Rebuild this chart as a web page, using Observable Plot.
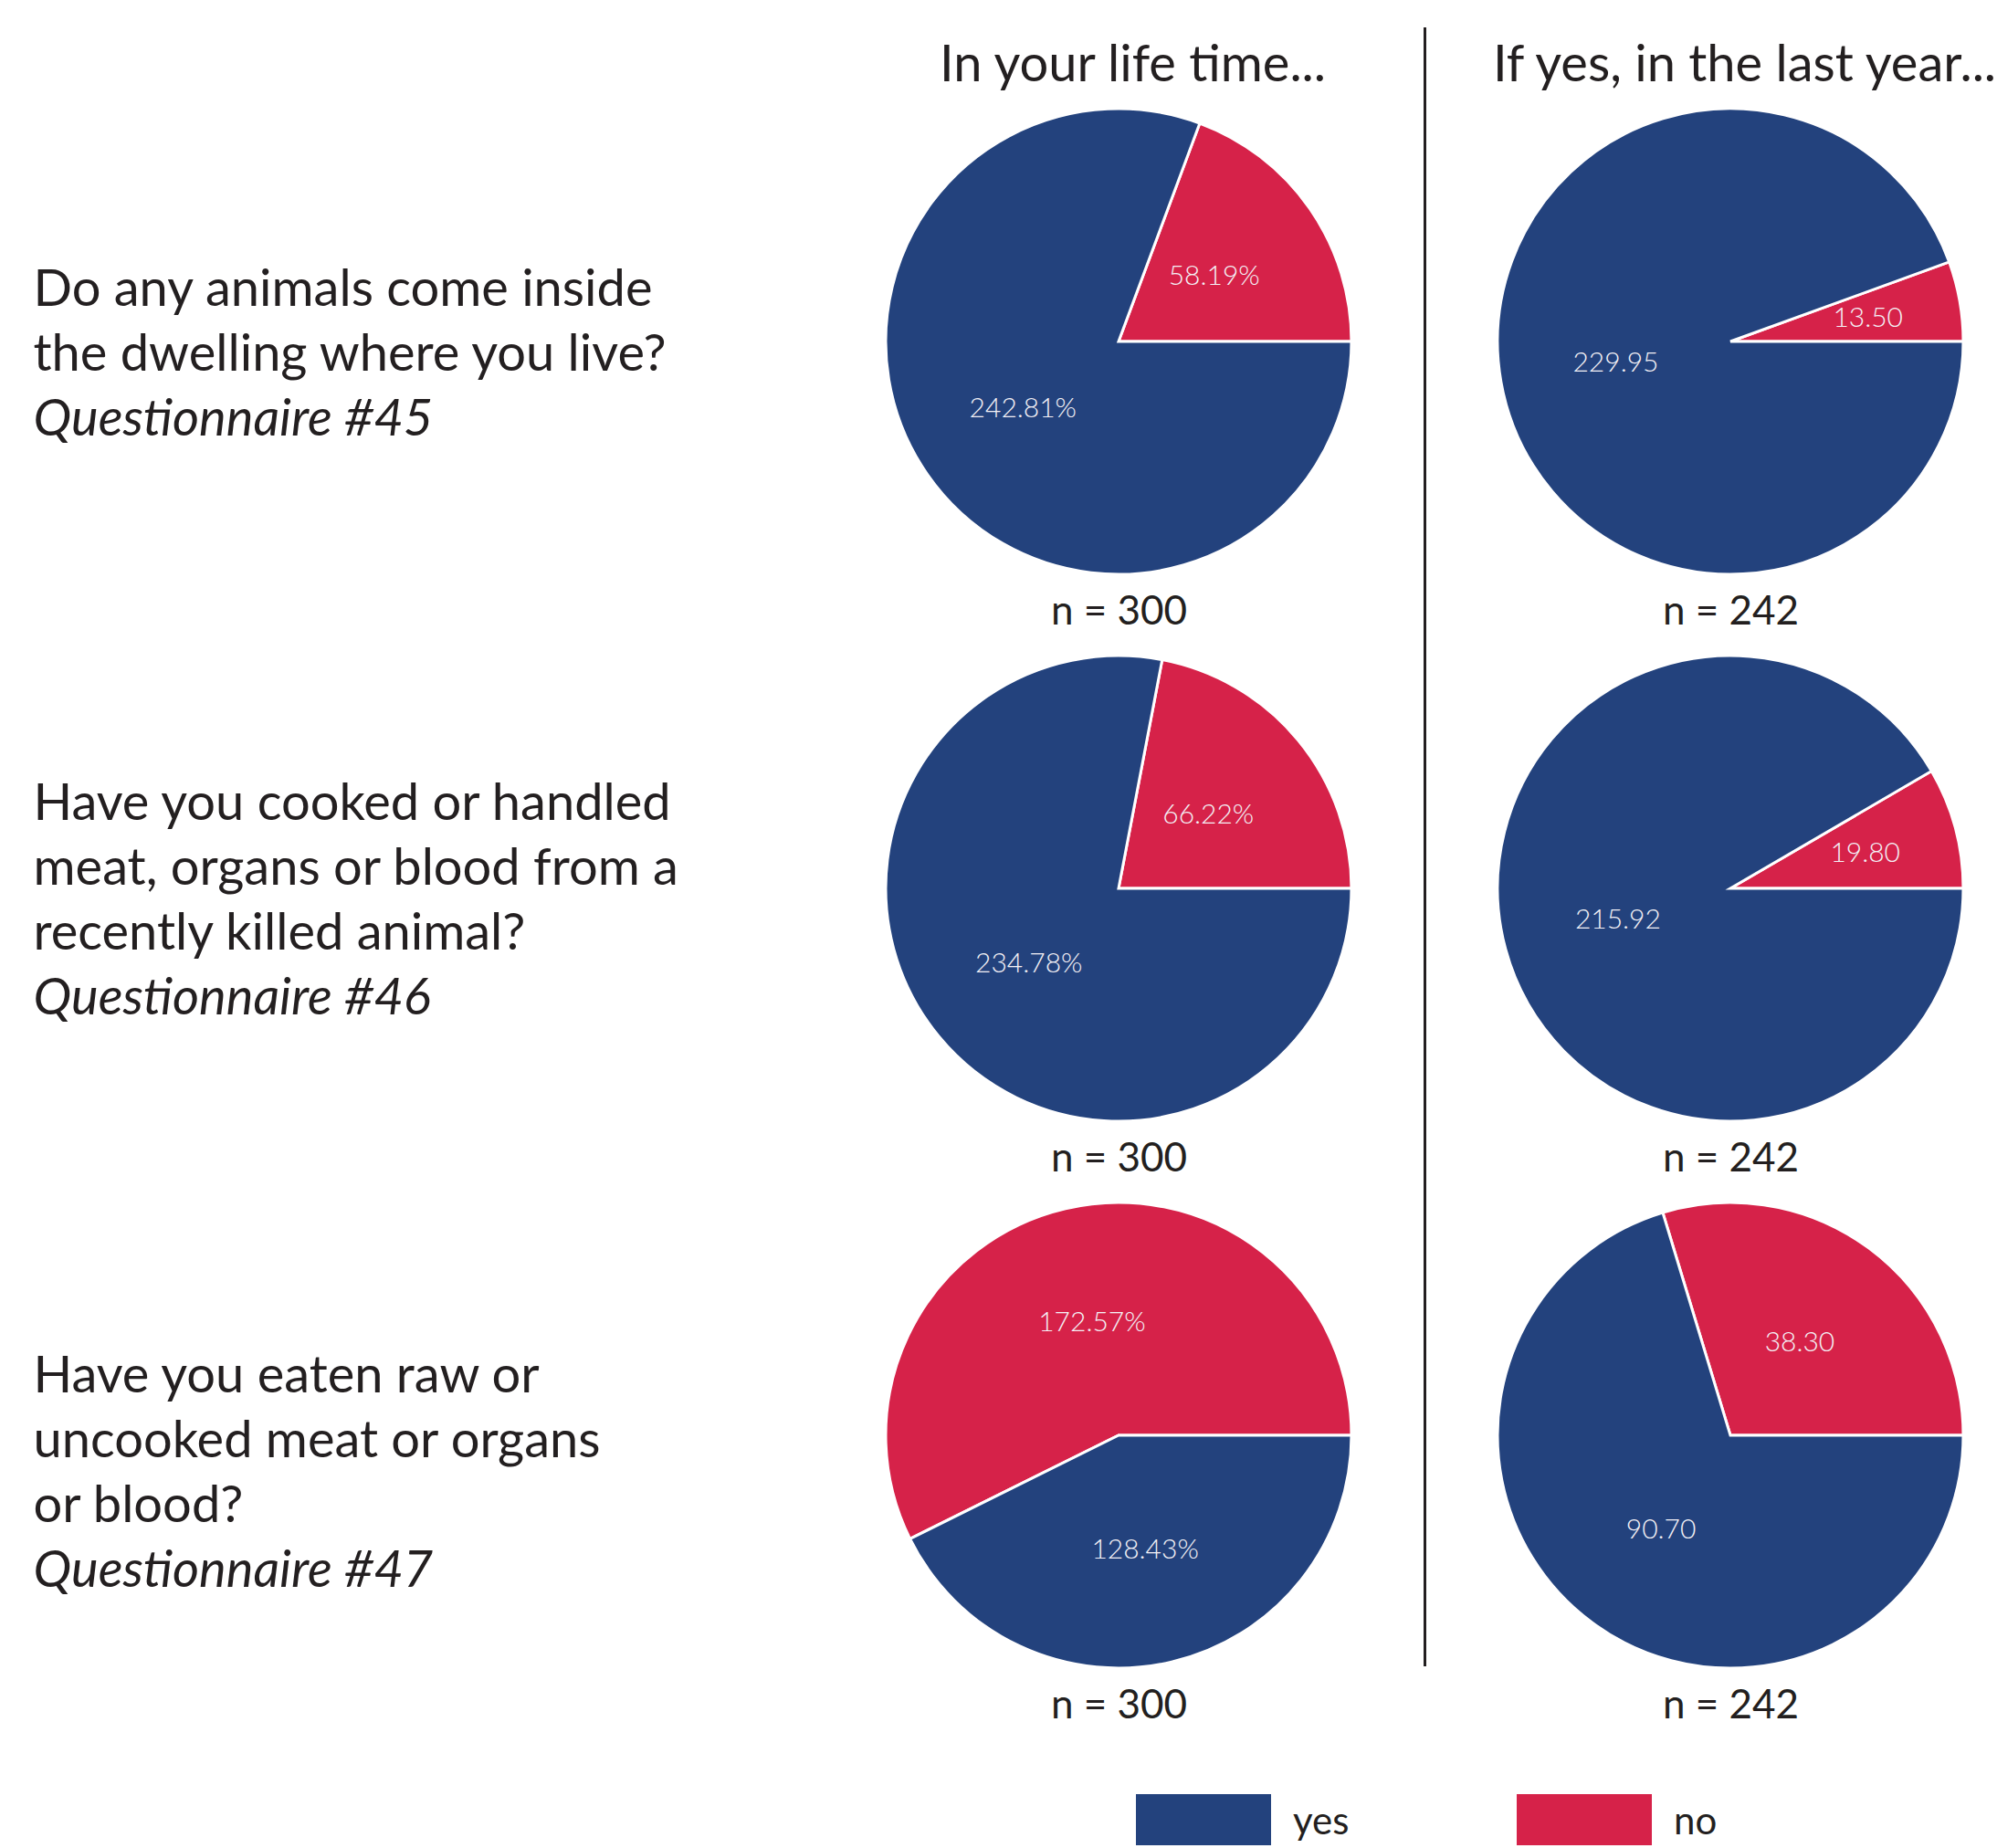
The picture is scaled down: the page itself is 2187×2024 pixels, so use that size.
<!DOCTYPE html>
<html>
<head>
<meta charset="utf-8">
<script src="https://cdn.jsdelivr.net/npm/d3@7"></script>
<script src="https://cdn.jsdelivr.net/npm/@observablehq/plot@0.6"></script>
<style>
  html, body { margin: 0; padding: 0; background: #ffffff; }
  body { font-family: Lato, "Open Sans", sans-serif; color: #231f20; }
  .lg-swatches { margin: 15px 0 0 1244px !important; font-family: Lato, sans-serif !important; font-size: 42px !important; color: #231f20 !important; min-height: 0 !important; }
  .lg-swatch { width: 417px; margin-right: 0 !important; }
  .lg-swatch > svg { margin-right: 24px !important; }
</style>
</head>
<body>
<div id="chart"></div>
<script>
// ---------- data ----------
const questionLines = [
  ["Do any animals come inside", "the dwelling where you live?"],
  ["Have you cooked or handled", "meat, organs or blood from a", "recently killed animal?"],
  ["Have you eaten raw or", "uncooked meat or organs", "or blood?"]
];
const questionnaireIds = ["#45", "#46", "#47"];
const periods = ["In your life time...", "If yes, in the last year..."];
const answers = ["yes", "no"];
const answerColors = ["#23427d", "#d62249"];
const lifetimeYes = [242.81, 234.78, 128.43];
const lifetimeNo  = [58.19, 66.22, 172.57];
const lastYearYes = [229.95, 215.92, 90.70];
const lastYearNo  = [13.50, 19.80, 38.30];
const sampleSizes = [300, 242];
const valueSuffix = ["%", ""];

// ---------- layout (styles / sizes) ----------
const W = 2187, H = 1950;
const R = 255;                 // pie radius
const ROW_RANGE = [374, 1572]; // y range for rows 0..2
const COL_RANGE = [1225, 1895];// x range for columns 0..1
const PX_PER_ROW = (ROW_RANGE[1] - ROW_RANGE[0]) / (questionLines.length - 1);
const LINE = 71;               // question text line spacing
const ROW_TEXT_SHIFT = [0, 0, 28];

const yesByPeriod = [lifetimeYes, lastYearYes];
const noByPeriod = [lifetimeNo, lastYearNo];

const color = d3.scaleOrdinal(answers, answerColors);

// pies
const pieGen = d3.pie().sort(null).value(d => d.value)
  .startAngle(Math.PI / 2).endAngle(Math.PI / 2 - 2 * Math.PI);
const pies = [];
questionLines.forEach((q, r) => {
  periods.forEach((p, c) => {
    const vals = [
      {answer: "no", value: noByPeriod[c][r]},
      {answer: "yes", value: yesByPeriod[c][r]}
    ];
    const total = d3.sum(vals, d => d.value);
    pies.push({row: r, col: c, total, arcs: pieGen(vals)});
  });
});

// n labels
const nLabels = [];
questionLines.forEach((q, r) => periods.forEach((p, c) => nLabels.push({row: r, col: c, text: "n = " + sampleSizes[c]})));

// question text lines
const textLines = [];
questionLines.forEach((lines, r) => {
  const all = [...lines.map(t => ({t, italic: false})), {t: "Questionnaire " + questionnaireIds[r], italic: true}];
  const n = all.length;
  const first = -((n - 1) * LINE) / 2 + 31 + ROW_TEXT_SHIFT[r];
  all.forEach((l, i) => textLines.push({row: r, y: r + (first + i * LINE) / PX_PER_ROW, text: l.t, italic: l.italic}));
});

// custom pie mark using Plot scales
function pieMark(index, scales) {
  const g = d3.create("svg:g");
  const arc = d3.arc().innerRadius(0).outerRadius(R);
  for (const p of pies) {
    const cx = scales.x(p.col), cy = scales.y(p.row);
    const pg = g.append("g").attr("transform", `translate(${cx},${cy})`);
    pg.selectAll("path").data(p.arcs).join("path")
      .attr("d", arc)
      .attr("fill", d => color(d.data.answer))
      .attr("stroke", "white")
      .attr("stroke-width", 3)
      .attr("stroke-linejoin", "miter");
    pg.selectAll("text").data(p.arcs).join("text")
      .attr("transform", d => {
        const lr = d.data.value / p.total < 0.15 ? 0.6 * R : 0.5 * R;
        const c = d3.arc().innerRadius(2 * lr - R).outerRadius(R).centroid(d);
        return `translate(${c[0]},${c[1]})`;
      })
      .attr("text-anchor", "middle")
      .attr("dy", "0.35em")
      .attr("fill", "#f4f1f6")
      .attr("font-size", 30)
      .attr("font-weight", 300)
      .attr("font-family", "Lato, sans-serif")
      .text(d => d.data.value.toFixed(2) + valueSuffix[p.col]);
  }
  return g.node();
}

const chart = Plot.plot({
  width: W,
  height: H,
  margin: 0,
  style: {fontFamily: "Lato, sans-serif", color: "#231f20", background: "white"},
  x: {domain: [0, periods.length - 1], range: COL_RANGE, axis: null},
  y: {domain: [0, questionLines.length - 1], range: ROW_RANGE, axis: null},
  marks: [
    Plot.ruleX([0.5], {stroke: "#231f20", strokeWidth: 3, insetTop: 30, insetBottom: H - 1825}),
    pieMark,
    Plot.text(periods, {x: (d, i) => i, text: d => d, frameAnchor: "top", lineAnchor: "bottom", dy: 88, dx: 15, fontSize: 56, fill: "#231f20"}),
    Plot.text(nLabels, {x: "col", y: "row", text: "text", lineAnchor: "bottom", dy: 309, fontSize: 44, fill: "#231f20"}),
    Plot.text(textLines.filter(d => !d.italic), {y: "y", text: "text", frameAnchor: "left", textAnchor: "start", dx: 36, lineAnchor: "bottom", fontSize: 56, fill: "#231f20"}),
    Plot.text(textLines.filter(d => d.italic), {y: "y", text: "text", frameAnchor: "left", textAnchor: "start", dx: 36, lineAnchor: "bottom", fontSize: 56, fontStyle: "italic", fill: "#231f20"})
  ]
});
document.getElementById("chart").appendChild(chart);

const legend = Plot.legend({
  color: {type: "ordinal", domain: answers, range: answerColors},
  legend: "swatches",
  swatchWidth: 148,
  swatchHeight: 56,
  className: "lg"
});
document.getElementById("chart").appendChild(legend);
</script>
</body>
</html>
